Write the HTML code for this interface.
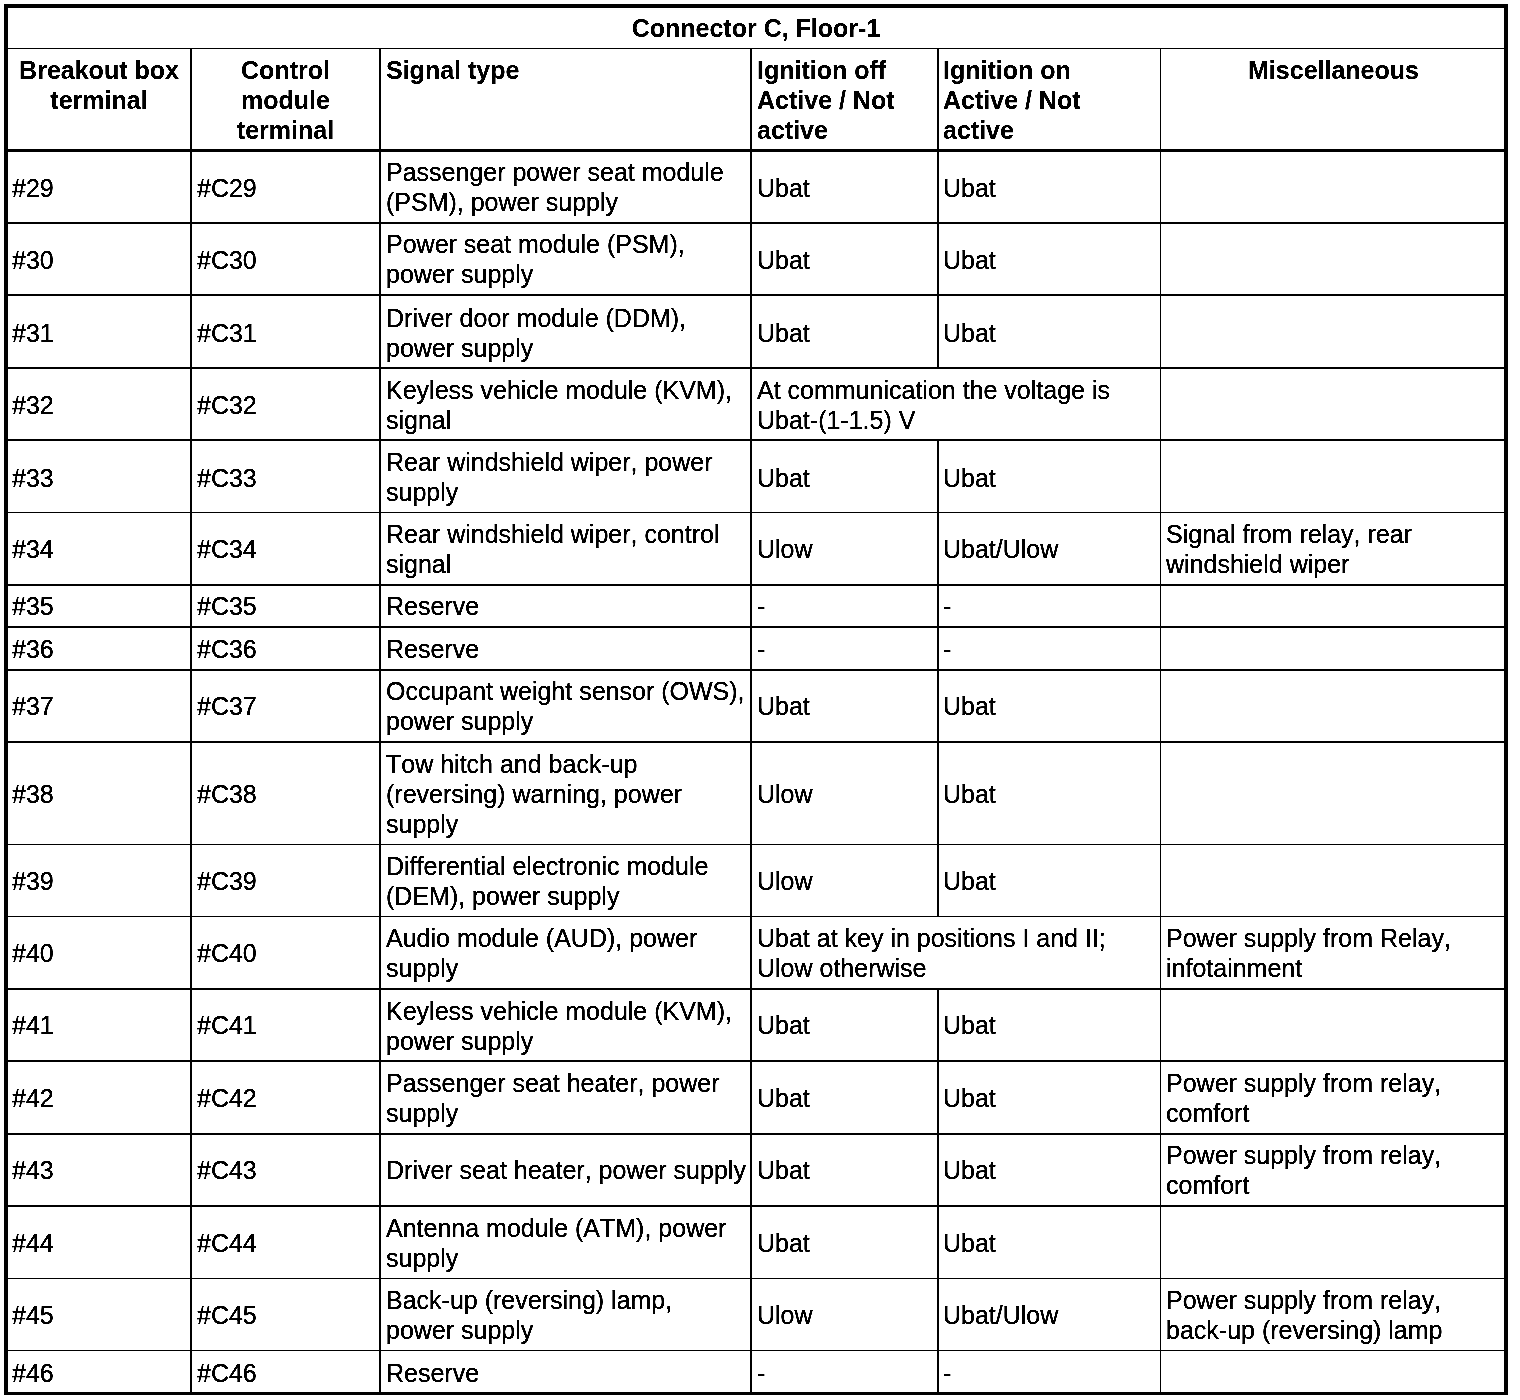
<!DOCTYPE html>
<html lang="en">
<head>
<meta charset="utf-8">
<title>Connector C, Floor-1</title>
<style>
html,body{margin:0;padding:0;background:#fff;}
body{filter:grayscale(1) contrast(4);}
body{width:1520px;height:1400px;position:relative;overflow:hidden;font-family:"Liberation Sans",sans-serif;font-size:25px;line-height:30px;color:#000;font-kerning:none;font-variant-ligatures:none;font-feature-settings:"kern" 0,"liga" 0;}
.l{position:absolute;background:#000;}
.t{position:absolute;white-space:nowrap;-webkit-text-stroke:0.3px #000;}
.b{font-weight:bold;-webkit-text-stroke:0.15px #000;}
.c{text-align:center;}

</style>
</head>
<body>
<div class="l" style="left:4px;top:4px;width:1504px;height:4px"></div>
<div class="l" style="left:4px;top:1392px;width:1504px;height:3px"></div>
<div class="l" style="left:4px;top:4px;width:4px;height:1391px"></div>
<div class="l" style="left:1504px;top:4px;width:4px;height:1391px"></div>
<div class="l" style="left:8px;top:48px;width:1496px;height:1px"></div>
<div class="l" style="left:8px;top:149px;width:1496px;height:3px"></div>
<div class="l" style="left:8px;top:222px;width:1496px;height:2px"></div>
<div class="l" style="left:8px;top:294px;width:1496px;height:2px"></div>
<div class="l" style="left:8px;top:367px;width:1496px;height:2px"></div>
<div class="l" style="left:8px;top:439px;width:1496px;height:2px"></div>
<div class="l" style="left:8px;top:512px;width:1496px;height:1px"></div>
<div class="l" style="left:8px;top:584px;width:1496px;height:2px"></div>
<div class="l" style="left:8px;top:626px;width:1496px;height:2px"></div>
<div class="l" style="left:8px;top:669px;width:1496px;height:2px"></div>
<div class="l" style="left:8px;top:741px;width:1496px;height:2px"></div>
<div class="l" style="left:8px;top:844px;width:1496px;height:1px"></div>
<div class="l" style="left:8px;top:916px;width:1496px;height:1px"></div>
<div class="l" style="left:8px;top:988px;width:1496px;height:2px"></div>
<div class="l" style="left:8px;top:1060px;width:1496px;height:2px"></div>
<div class="l" style="left:8px;top:1133px;width:1496px;height:2px"></div>
<div class="l" style="left:8px;top:1205px;width:1496px;height:2px"></div>
<div class="l" style="left:8px;top:1278px;width:1496px;height:1px"></div>
<div class="l" style="left:8px;top:1350px;width:1496px;height:1px"></div>
<div class="l" style="left:190px;top:49px;width:2px;height:1343px"></div>
<div class="l" style="left:379px;top:49px;width:2px;height:1343px"></div>
<div class="l" style="left:750px;top:49px;width:2px;height:1343px"></div>
<div class="l" style="left:937px;top:49px;width:2px;height:320px"></div>
<div class="l" style="left:937px;top:439px;width:2px;height:478px"></div>
<div class="l" style="left:937px;top:988px;width:2px;height:404px"></div>
<div class="l" style="left:1160px;top:49px;width:1px;height:1343px"></div>
<div class="t b c" style="left:8px;top:13px;width:1496px">Connector C, Floor-1</div>
<div class="t b c" style="left:8px;top:55px;width:182px">Breakout box<br>terminal</div>
<div class="t b c" style="left:192px;top:55px;width:187px">Control<br>module<br>terminal</div>
<div class="t b" style="left:386px;top:55px">Signal type</div>
<div class="t b" style="left:757px;top:55px">Ignition off<br>Active / Not<br>active</div>
<div class="t b" style="left:943px;top:55px">Ignition on<br>Active / Not<br>active</div>
<div class="t b c" style="left:1162px;top:55px;width:343px">Miscellaneous</div>
<div class="t" style="left:12px;top:173px">#29</div>
<div class="t" style="left:197px;top:173px">#C29</div>
<div class="t" style="left:386px;top:157px">Passenger power seat module<br>(PSM), power supply</div>
<div class="t" style="left:757px;top:173px">Ubat</div>
<div class="t" style="left:943px;top:173px">Ubat</div>
<div class="t" style="left:12px;top:245px">#30</div>
<div class="t" style="left:197px;top:245px">#C30</div>
<div class="t" style="left:386px;top:229px">Power seat module (PSM),<br>power supply</div>
<div class="t" style="left:757px;top:245px">Ubat</div>
<div class="t" style="left:943px;top:245px">Ubat</div>
<div class="t" style="left:12px;top:318px">#31</div>
<div class="t" style="left:197px;top:318px">#C31</div>
<div class="t" style="left:386px;top:303px">Driver door module (DDM),<br>power supply</div>
<div class="t" style="left:757px;top:318px">Ubat</div>
<div class="t" style="left:943px;top:318px">Ubat</div>
<div class="t" style="left:12px;top:390px">#32</div>
<div class="t" style="left:197px;top:390px">#C32</div>
<div class="t" style="left:386px;top:375px">Keyless vehicle module (KVM),<br>signal</div>
<div class="t" style="left:757px;top:375px">At communication the voltage is<br>Ubat-(1-1.5) V</div>
<div class="t" style="left:12px;top:463px">#33</div>
<div class="t" style="left:197px;top:463px">#C33</div>
<div class="t" style="left:386px;top:447px">Rear windshield wiper, power<br>supply</div>
<div class="t" style="left:757px;top:463px">Ubat</div>
<div class="t" style="left:943px;top:463px">Ubat</div>
<div class="t" style="left:12px;top:534px">#34</div>
<div class="t" style="left:197px;top:534px">#C34</div>
<div class="t" style="left:386px;top:519px">Rear windshield wiper, control<br>signal</div>
<div class="t" style="left:757px;top:534px">Ulow</div>
<div class="t" style="left:943px;top:534px">Ubat/Ulow</div>
<div class="t" style="left:1166px;top:519px">Signal from relay, rear<br>windshield wiper</div>
<div class="t" style="left:12px;top:591px">#35</div>
<div class="t" style="left:197px;top:591px">#C35</div>
<div class="t" style="left:386px;top:591px">Reserve</div>
<div class="t" style="left:757px;top:591px">-</div>
<div class="t" style="left:943px;top:591px">-</div>
<div class="t" style="left:12px;top:634px">#36</div>
<div class="t" style="left:197px;top:634px">#C36</div>
<div class="t" style="left:386px;top:634px">Reserve</div>
<div class="t" style="left:757px;top:634px">-</div>
<div class="t" style="left:943px;top:634px">-</div>
<div class="t" style="left:12px;top:691px">#37</div>
<div class="t" style="left:197px;top:691px">#C37</div>
<div class="t" style="left:386px;top:676px">Occupant weight sensor (OWS),<br>power supply</div>
<div class="t" style="left:757px;top:691px">Ubat</div>
<div class="t" style="left:943px;top:691px">Ubat</div>
<div class="t" style="left:12px;top:779px">#38</div>
<div class="t" style="left:197px;top:779px">#C38</div>
<div class="t" style="left:386px;top:749px">Tow hitch and back-up<br>(reversing) warning, power<br>supply</div>
<div class="t" style="left:757px;top:779px">Ulow</div>
<div class="t" style="left:943px;top:779px">Ubat</div>
<div class="t" style="left:12px;top:866px">#39</div>
<div class="t" style="left:197px;top:866px">#C39</div>
<div class="t" style="left:386px;top:851px">Differential electronic module<br>(DEM), power supply</div>
<div class="t" style="left:757px;top:866px">Ulow</div>
<div class="t" style="left:943px;top:866px">Ubat</div>
<div class="t" style="left:12px;top:938px">#40</div>
<div class="t" style="left:197px;top:938px">#C40</div>
<div class="t" style="left:386px;top:923px">Audio module (AUD), power<br>supply</div>
<div class="t" style="left:757px;top:923px">Ubat at key in positions I and II;<br>Ulow otherwise</div>
<div class="t" style="left:1166px;top:923px">Power supply from Relay,<br>infotainment</div>
<div class="t" style="left:12px;top:1010px">#41</div>
<div class="t" style="left:197px;top:1010px">#C41</div>
<div class="t" style="left:386px;top:996px">Keyless vehicle module (KVM),<br>power supply</div>
<div class="t" style="left:757px;top:1010px">Ubat</div>
<div class="t" style="left:943px;top:1010px">Ubat</div>
<div class="t" style="left:12px;top:1083px">#42</div>
<div class="t" style="left:197px;top:1083px">#C42</div>
<div class="t" style="left:386px;top:1068px">Passenger seat heater, power<br>supply</div>
<div class="t" style="left:757px;top:1083px">Ubat</div>
<div class="t" style="left:943px;top:1083px">Ubat</div>
<div class="t" style="left:1166px;top:1068px">Power supply from relay,<br>comfort</div>
<div class="t" style="left:12px;top:1155px">#43</div>
<div class="t" style="left:197px;top:1155px">#C43</div>
<div class="t" style="left:386px;top:1155px">Driver seat heater, power supply</div>
<div class="t" style="left:757px;top:1155px">Ubat</div>
<div class="t" style="left:943px;top:1155px">Ubat</div>
<div class="t" style="left:1166px;top:1140px">Power supply from relay,<br>comfort</div>
<div class="t" style="left:12px;top:1228px">#44</div>
<div class="t" style="left:197px;top:1228px">#C44</div>
<div class="t" style="left:386px;top:1213px">Antenna module (ATM), power<br>supply</div>
<div class="t" style="left:757px;top:1228px">Ubat</div>
<div class="t" style="left:943px;top:1228px">Ubat</div>
<div class="t" style="left:12px;top:1300px">#45</div>
<div class="t" style="left:197px;top:1300px">#C45</div>
<div class="t" style="left:386px;top:1285px">Back-up (reversing) lamp,<br>power supply</div>
<div class="t" style="left:757px;top:1300px">Ulow</div>
<div class="t" style="left:943px;top:1300px">Ubat/Ulow</div>
<div class="t" style="left:1166px;top:1285px">Power supply from relay,<br>back-up (reversing) lamp</div>
<div class="t" style="left:12px;top:1358px">#46</div>
<div class="t" style="left:197px;top:1358px">#C46</div>
<div class="t" style="left:386px;top:1358px">Reserve</div>
<div class="t" style="left:757px;top:1358px">-</div>
<div class="t" style="left:943px;top:1358px">-</div>
</body>
</html>
